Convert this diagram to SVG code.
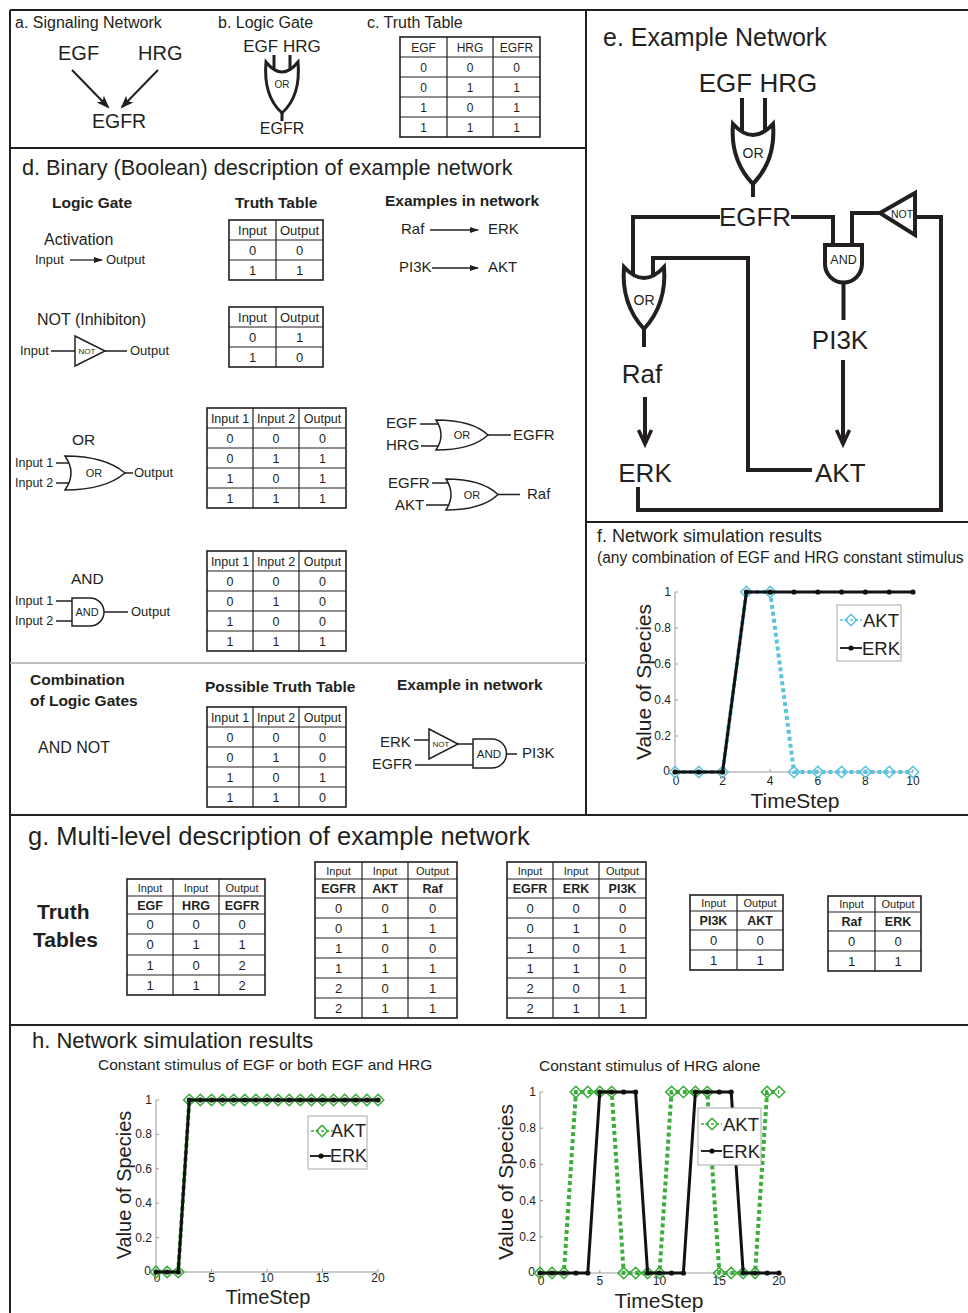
<svg xmlns="http://www.w3.org/2000/svg" width="968" height="1313" viewBox="0 0 968 1313">
<style>
text{font-family:"Liberation Sans",Arial,sans-serif;fill:#231f20}
.b{font-weight:bold}
.c{text-anchor:middle}
.r{text-anchor:end}
.frame{stroke:#231f20;stroke-width:2;fill:none}
.tb{fill:none;stroke:#231f20;stroke-width:1.6}
.tl{stroke:#231f20;stroke-width:1.2;fill:none}
.gate{fill:#fff;stroke:#231f20;stroke-width:1.5}
.gateB{fill:#fff;stroke:#231f20;stroke-width:3}
.gateE{fill:#fff;stroke:#231f20;stroke-width:4}
.wire{stroke:#231f20;stroke-width:1.3;fill:none}
.wireB{stroke:#231f20;stroke-width:3;fill:none}
.wireE{stroke:#231f20;stroke-width:4;fill:none}
.axis{stroke:#9a9a9a;stroke-width:1;fill:none}
.tick{font-size:12px}
.erk{stroke:#111;stroke-width:3;fill:none;marker-start:url(#dot);marker-mid:url(#dot);marker-end:url(#dot)}
.aktC{stroke:#5bc4dc;stroke-width:4;fill:none;stroke-dasharray:4 3;marker-start:url(#diaC);marker-mid:url(#diaC);marker-end:url(#diaC)}
.aktG{stroke:#3cac3c;stroke-width:4;fill:none;stroke-dasharray:4 3;marker-start:url(#diaG);marker-mid:url(#diaG);marker-end:url(#diaG)}
.legC{stroke:#5bc4dc;stroke-width:1.5;fill:none;stroke-dasharray:3 2;marker-mid:url(#diaC)}
.legG{stroke:#3cac3c;stroke-width:1.5;fill:none;stroke-dasharray:3 2;marker-mid:url(#diaG)}
.legE{stroke:#111;stroke-width:1.8;fill:none;marker-mid:url(#dot)}
.leg{fill:#fff;stroke:#a8a8a8;stroke-width:1}
.sep{stroke:#aaaaaa;stroke-width:1.5}
</style>
<defs>
<marker id="dot" markerUnits="userSpaceOnUse" markerWidth="8" markerHeight="8" refX="4" refY="4" overflow="visible"><circle cx="4" cy="4" r="2.6" fill="#111"/></marker>
<marker id="diaC" markerUnits="userSpaceOnUse" markerWidth="14" markerHeight="14" refX="7" refY="7" overflow="visible"><path d="M7,1.3 L12.7,7 L7,12.7 L1.3,7 Z" fill="none" stroke="#5bc4dc" stroke-width="1.6"/></marker>
<marker id="diaG" markerUnits="userSpaceOnUse" markerWidth="14" markerHeight="14" refX="7" refY="7" overflow="visible"><path d="M7,1.3 L12.7,7 L7,12.7 L1.3,7 Z" fill="none" stroke="#3cac3c" stroke-width="1.6"/></marker>
<marker id="arr" markerUnits="userSpaceOnUse" markerWidth="10" markerHeight="8" refX="8" refY="4" orient="auto" overflow="visible"><path d="M0,1 L9,4 L0,7 Z" fill="#231f20"/></marker>
<marker id="arrA" markerUnits="userSpaceOnUse" markerWidth="14" markerHeight="12" refX="11" refY="6" orient="auto" overflow="visible"><path d="M0,1 L13,6 L0,11 L3,6 Z" fill="#231f20"/></marker>
</defs>
<rect x="0" y="0" width="968" height="1313" fill="#fff"/>

<!-- frames -->
<g id="frames">
<path class="frame" d="M10,10 L968,10 M10,10 L10,1313 M10,148 L586,148 M586,10 L586,815 M586,522 L968,522 M10,815 L968,815 M10,1025 L968,1025"/>
<path class="sep" d="M10,663 L586,663"/>
</g>

<!-- panel a -->
<g id="panel-a">
<text x="15" y="28" font-size="16">a. Signaling Network</text>
<g id="a-EGF"><text x="58" y="60" font-size="20">EGF</text></g>
<g id="a-HRG"><text x="138" y="60" font-size="20">HRG</text></g>
<g id="a-EGFR"><text x="92" y="128" font-size="19.5">EGFR</text></g>
<g id="a-connectors">
<path d="M72,70 L108,107" stroke="#231f20" stroke-width="2" fill="none" marker-end="url(#arrA)"/>
<path d="M158,70 L122,107" stroke="#231f20" stroke-width="2" fill="none" marker-end="url(#arrA)"/>
</g>
</g>

<!-- panel b -->
<g id="panel-b">
<text x="218" y="28" font-size="16">b. Logic Gate</text>
<text x="282" y="52" font-size="17" class="c">EGF HRG</text>
<g id="b-connectors">
<path class="wireB" d="M274,55 L274,74 M290,55 L290,74 M282,110 L282,121"/>
</g>
<g id="b-or">
<path class="gateB" d="M266,62 Q282,82 298,62 Q301,96 282,113 Q263,96 266,62 Z"/>
<text x="282" y="88" font-size="10" class="c">OR</text>
</g>
<text x="282" y="134" font-size="16" class="c">EGFR</text>
</g>

<!-- panel c -->
<g id="panel-c" font-size="12">
<text x="367" y="28" font-size="16">c. Truth Table</text>
<rect class="tb" x="400" y="37" width="140" height="100"/>
<path class="tl" d="M447,37 V137 M493,37 V137 M400,57 H540 M400,77 H540 M400,97 H540 M400,117 H540"/>
<g class="c">
<text x="423.5" y="51.5">EGF</text><text x="470" y="51.5">HRG</text><text x="516.5" y="51.5">EGFR</text>
<text x="423.5" y="71.5">0</text><text x="470" y="71.5">0</text><text x="516.5" y="71.5">0</text>
<text x="423.5" y="91.5">0</text><text x="470" y="91.5">1</text><text x="516.5" y="91.5">1</text>
<text x="423.5" y="111.5">1</text><text x="470" y="111.5">0</text><text x="516.5" y="111.5">1</text>
<text x="423.5" y="131.5">1</text><text x="470" y="131.5">1</text><text x="516.5" y="131.5">1</text>
</g>
</g>

<!-- panel d -->
<g id="panel-d">
<text x="22" y="175" font-size="21.7">d. Binary (Boolean) description of example network</text>
<text x="52" y="208" font-size="15.5" class="b">Logic Gate</text>
<text x="235" y="208" font-size="15.5" class="b">Truth Table</text>
<text x="385" y="206" font-size="15.5" class="b">Examples in network</text>

<g id="d-activation">
<text x="44" y="245" font-size="16">Activation</text>
<text x="35" y="264" font-size="13">Input</text>
<path class="wire" d="M70,260 L102,260" marker-end="url(#arr)"/>
<text x="106" y="264" font-size="13">Output</text>
</g>

<g id="d-table1" font-size="13">
<rect class="tb" x="229" y="220" width="94" height="60"/>
<path class="tl" d="M276,220 V280 M229,240 H323 M229,260 H323"/>
<g class="c">
<text x="252.5" y="235">Input</text><text x="299.5" y="235">Output</text>
<text x="252.5" y="255">0</text><text x="299.5" y="255">0</text>
<text x="252.5" y="275">1</text><text x="299.5" y="275">1</text>
</g>
</g>

<g id="d-ex-act" font-size="15">
<text x="401" y="234">Raf</text>
<path class="wire" d="M430,230 L478,230" marker-end="url(#arr)"/>
<text x="488" y="234">ERK</text>
<text x="399" y="272">PI3K</text>
<path class="wire" d="M432,268 L478,268" marker-end="url(#arr)"/>
<text x="488" y="272">AKT</text>
</g>

<g id="d-not">
<text x="37" y="325" font-size="16">NOT (Inhibiton)</text>
<text x="20" y="355" font-size="13">Input</text>
<path class="wire" d="M51,351 L75,351 M105,351 L127,351"/>
<path class="gate" d="M75,336 L105,351 L75,366 Z"/>
<text x="87" y="354" font-size="8" class="c">NOT</text>
<text x="130" y="355" font-size="13">Output</text>
</g>

<g id="d-table2" font-size="13">
<rect class="tb" x="229" y="307" width="94" height="60"/>
<path class="tl" d="M276,307 V367 M229,327 H323 M229,347 H323"/>
<g class="c">
<text x="252.5" y="322">Input</text><text x="299.5" y="322">Output</text>
<text x="252.5" y="342">0</text><text x="299.5" y="342">1</text>
<text x="252.5" y="362">1</text><text x="299.5" y="362">0</text>
</g>
</g>

<g id="d-or">
<text x="72" y="445" font-size="15.5">OR</text>
<text x="15" y="467" font-size="12.5">Input 1</text>
<text x="15" y="487" font-size="12.5">Input 2</text>
<path class="wire" d="M56,463 L71,463 M56,483 L71,483 M125,473 L133,473"/>
<path class="gate" d="M65,456 Q77,473 65,490 Q105,490 125,473 Q105,456 65,456 Z"/>
<text x="94" y="477" font-size="11" class="c">OR</text>
<text x="134" y="477" font-size="13">Output</text>
</g>

<g id="d-table3" font-size="12.5">
<rect class="tb" x="207" y="408" width="139" height="100"/>
<path class="tl" d="M253,408 V508 M299,408 V508 M207,428 H346 M207,448 H346 M207,468 H346 M207,488 H346"/>
<g class="c">
<text x="230" y="423">Input 1</text><text x="276" y="423">Input 2</text><text x="322.5" y="423">Output</text>
<text x="230" y="443">0</text><text x="276" y="443">0</text><text x="322.5" y="443">0</text>
<text x="230" y="463">0</text><text x="276" y="463">1</text><text x="322.5" y="463">1</text>
<text x="230" y="483">1</text><text x="276" y="483">0</text><text x="322.5" y="483">1</text>
<text x="230" y="503">1</text><text x="276" y="503">1</text><text x="322.5" y="503">1</text>
</g>
</g>

<g id="d-ex-or1" font-size="15">
<text x="386" y="428">EGF</text>
<text x="386" y="450">HRG</text>
<path class="wire" d="M420,424 L441,424 M421,446 L441,446 M488,435 L511,435"/>
<path class="gate" d="M436,420 Q446,435 436,450 Q472,450 488,435 Q472,420 436,420 Z"/>
<text x="462" y="439" font-size="11" class="c">OR</text>
<text x="513" y="440">EGFR</text>
</g>

<g id="d-ex-or2" font-size="15">
<text x="388" y="488">EGFR</text>
<text x="395" y="510">AKT</text>
<path class="wire" d="M432,483 L452,483 M426,505 L452,505 M498,494.5 L520,494.5"/>
<path class="gate" d="M446,479 Q456,494.5 446,510 Q482,510 498,494.5 Q482,479 446,479 Z"/>
<text x="472" y="499" font-size="11" class="c">OR</text>
<text x="527" y="499">Raf</text>
</g>

<g id="d-and">
<text x="71" y="584" font-size="15.5">AND</text>
<text x="15" y="605" font-size="12.5">Input 1</text>
<text x="15" y="625" font-size="12.5">Input 2</text>
<path class="wire" d="M56,601 L72,601 M56,621 L72,621 M104,612 L128,612"/>
<path class="gate" d="M72,598 L90,598 A14,14 0 0 1 90,626 L72,626 Z"/>
<text x="87" y="616" font-size="11" class="c">AND</text>
<text x="131" y="616" font-size="13">Output</text>
</g>

<g id="d-table4" font-size="12.5">
<rect class="tb" x="207" y="551" width="139" height="100"/>
<path class="tl" d="M253,551 V651 M299,551 V651 M207,571 H346 M207,591 H346 M207,611 H346 M207,631 H346"/>
<g class="c">
<text x="230" y="566">Input 1</text><text x="276" y="566">Input 2</text><text x="322.5" y="566">Output</text>
<text x="230" y="586">0</text><text x="276" y="586">0</text><text x="322.5" y="586">0</text>
<text x="230" y="606">0</text><text x="276" y="606">1</text><text x="322.5" y="606">0</text>
<text x="230" y="626">1</text><text x="276" y="626">0</text><text x="322.5" y="626">0</text>
<text x="230" y="646">1</text><text x="276" y="646">1</text><text x="322.5" y="646">1</text>
</g>
</g>

<g id="d-combination">
<text x="30" y="685" font-size="15.5" class="b">Combination</text>
<text x="30" y="706" font-size="15.5" class="b">of Logic Gates</text>
<text x="205" y="692" font-size="15.5" class="b">Possible Truth Table</text>
<text x="397" y="690" font-size="15.5" class="b">Example in network</text>
<text x="38" y="753" font-size="16">AND NOT</text>
</g>

<g id="d-table5" font-size="12.5">
<rect class="tb" x="207" y="707" width="139" height="100"/>
<path class="tl" d="M253,707 V807 M299,707 V807 M207,727 H346 M207,747 H346 M207,767 H346 M207,787 H346"/>
<g class="c">
<text x="230" y="722">Input 1</text><text x="276" y="722">Input 2</text><text x="322.5" y="722">Output</text>
<text x="230" y="742">0</text><text x="276" y="742">0</text><text x="322.5" y="742">0</text>
<text x="230" y="762">0</text><text x="276" y="762">1</text><text x="322.5" y="762">0</text>
<text x="230" y="782">1</text><text x="276" y="782">0</text><text x="322.5" y="782">1</text>
<text x="230" y="802">1</text><text x="276" y="802">1</text><text x="322.5" y="802">0</text>
</g>
</g>

<g id="d-ex-andnot" font-size="15">
<text x="380" y="747">ERK</text>
<text x="372" y="769" font-size="14.5">EGFR</text>
<path class="wire" d="M414,740 L429,740 M458,744 L474,744 M415,765 L474,765 M506.5,754 L517,754"/>
<path class="gate" d="M429,729 L458,744 L429,759 Z"/>
<text x="441" y="747" font-size="8" class="c">NOT</text>
<path class="gate" d="M473,739 L492,739 A14.5,14.5 0 0 1 492,768 L473,768 Z"/>
<text x="489" y="758" font-size="11.5" class="c">AND</text>
<text x="522" y="758">PI3K</text>
</g>
</g>

<!-- panel e -->
<g id="panel-e">
<text x="603" y="46" font-size="25">e. Example Network</text>
<g id="e-connectors">
<path class="wireE" d="M742,98 L742,134 M765,98 L765,134"/>
<path class="wireE" d="M753,182 L753,197"/>
<path class="wireE" d="M720,217 L633,217 L633,285"/>
<path class="wireE" d="M791,217 L833,217 L833,250"/>
<path class="wireE" d="M852,250 L852,213 L880,213"/>
<path class="wireE" d="M915,217 L941,217 L941,510 L638,510 L638,487"/>
<path class="wireE" d="M653,285 L653,258 L748,258 L748,470 L812,470"/>
<path class="wireE" d="M644,327 L644,347"/>
<path class="wireE" d="M843.5,281 L843.5,320"/>
<path class="wireE" d="M645,397 L645,442"/>
<path d="M638.5,430 L645,444 L651.5,430" stroke="#231f20" stroke-width="3.5" fill="none" stroke-linejoin="miter"/>
<path class="wireE" d="M843,360 L843,442"/>
<path d="M836.5,430 L843,444 L849.5,430" stroke="#231f20" stroke-width="3.5" fill="none" stroke-linejoin="miter"/>
</g>
<g id="e-EGF-HRG"><text x="758" y="92" font-size="26" class="c">EGF HRG</text></g>
<g id="e-or1">
<path class="gateE" d="M733,124 Q753,146 773,124 Q776,160 753,184 Q730,160 733,124 Z"/>
<text x="753" y="158" font-size="14" class="c">OR</text>
</g>
<g id="e-EGFR"><text x="755" y="226" font-size="26" class="c">EGFR</text></g>
<g id="e-and">
<path class="gateE" d="M825,245 L862,245 L862,264 A18.5,18.5 0 0 1 825,264 Z"/>
<text x="843.5" y="264" font-size="12.5" class="c">AND</text>
</g>
<g id="e-not">
<path class="gateE" d="M880,213 L915,193 L915,235 Z" stroke-width="3" stroke-linejoin="miter"/>
<text x="902" y="218" font-size="10.5" class="c">NOT</text>
</g>
<g id="e-or2">
<path class="gateE" d="M624,267 Q644,289 664,267 Q667,304 644,329 Q621,304 624,267 Z"/>
<text x="644" y="305" font-size="14" class="c">OR</text>
</g>
<g id="e-PI3K"><text x="840" y="349" font-size="26" class="c">PI3K</text></g>
<g id="e-Raf"><text x="642" y="383" font-size="26" class="c">Raf</text></g>
<g id="e-ERK"><text x="645" y="482" font-size="26" class="c">ERK</text></g>
<g id="e-AKT"><text x="815" y="482" font-size="26">AKT</text></g>
</g>

<!-- panel f -->
<g id="panel-f">
<text x="597" y="542" font-size="18">f. Network simulation results</text>
<text x="597" y="563" font-size="15.6">(any combination of EGF and HRG constant stimulus</text>
<path class="axis" d="M675,592 L675,772 L913,772"/>
<path class="axis" d="M675,592 h3 M675,628 h3 M675,664 h3 M675,700 h3 M675,736 h3 M722.6,772 v-3 M770.2,772 v-3 M817.8,772 v-3 M865.4,772 v-3 M913,772 v-3"/>
<g class="tick r">
<text x="671" y="596">1</text><text x="671" y="632">0.8</text><text x="671" y="668">0.6</text><text x="671" y="704">0.4</text><text x="671" y="740">0.2</text><text x="670" y="775">0</text>
</g>
<g class="tick c">
<text x="676" y="785">0</text><text x="722.6" y="785">2</text><text x="770.2" y="785">4</text><text x="817.8" y="785">6</text><text x="865.4" y="785">8</text><text x="913" y="785">10</text>
</g>
<path class="aktC" d="M675,772 L698.8,772 L722.6,772 L746.4,592 L770.2,592 L794,772 L817.8,772 L841.6,772 L865.4,772 L889.2,772 L913,772"/>
<path class="erk" d="M675,772 L698.8,772 L722.6,772 L746.4,592 L770.2,592 L794,592 L817.8,592 L841.6,592 L865.4,592 L889.2,592 L913,592"/>
<text x="795" y="808" font-size="21" class="c">TimeStep</text>
<text transform="translate(651,682) rotate(-90)" font-size="21" class="c">Value of Species</text>
<g id="f-legend">
<rect class="leg" x="837" y="605" width="64" height="56"/>
<path class="legC" d="M840,620 L851,620 L862,620"/>
<text x="863" y="627" font-size="18.5">AKT</text>
<path class="legE" d="M840,648 L851,648 L862,648"/>
<text x="862" y="655" font-size="18.5">ERK</text>
</g>
</g>

<!-- panel g -->
<g id="panel-g">
<text x="28" y="845" font-size="25.5">g. Multi-level description of example network</text>
<text x="37" y="919" font-size="21" class="b">Truth</text>
<text x="33" y="947" font-size="21" class="b">Tables</text>

<g id="g-table1">
<rect class="tb" x="127" y="879" width="138" height="116"/>
<path class="tl" d="M173,879 V995 M219,879 V995 M127,896 H265 M127,914 H265 M127,934 H265 M127,955 H265 M127,975 H265"/>
<g class="c" font-size="11"><text x="150" y="892">Input</text><text x="196" y="892">Input</text><text x="242" y="892">Output</text></g>
<g class="c b" font-size="12.5"><text x="150" y="910">EGF</text><text x="196" y="910">HRG</text><text x="242" y="910">EGFR</text></g>
<g class="c" font-size="13">
<text x="150" y="929">0</text><text x="196" y="929">0</text><text x="242" y="929">0</text>
<text x="150" y="949">0</text><text x="196" y="949">1</text><text x="242" y="949">1</text>
<text x="150" y="970">1</text><text x="196" y="970">0</text><text x="242" y="970">2</text>
<text x="150" y="990">1</text><text x="196" y="990">1</text><text x="242" y="990">2</text>
</g>
</g>

<g id="g-table2">
<rect class="tb" x="315" y="862" width="142" height="156"/>
<path class="tl" d="M362,862 V1018 M408,862 V1018 M315,879 H457 M315,898 H457 M315,918 H457 M315,938 H457 M315,958 H457 M315,978 H457 M315,998 H457"/>
<g class="c" font-size="11"><text x="338.5" y="875">Input</text><text x="385" y="875">Input</text><text x="432.5" y="875">Output</text></g>
<g class="c b" font-size="12.5"><text x="338.5" y="893">EGFR</text><text x="385" y="893">AKT</text><text x="432.5" y="893">Raf</text></g>
<g class="c" font-size="13">
<text x="338.5" y="912.5">0</text><text x="385" y="912.5">0</text><text x="432.5" y="912.5">0</text>
<text x="338.5" y="932.5">0</text><text x="385" y="932.5">1</text><text x="432.5" y="932.5">1</text>
<text x="338.5" y="952.5">1</text><text x="385" y="952.5">0</text><text x="432.5" y="952.5">0</text>
<text x="338.5" y="972.5">1</text><text x="385" y="972.5">1</text><text x="432.5" y="972.5">1</text>
<text x="338.5" y="992.5">2</text><text x="385" y="992.5">0</text><text x="432.5" y="992.5">1</text>
<text x="338.5" y="1012.5">2</text><text x="385" y="1012.5">1</text><text x="432.5" y="1012.5">1</text>
</g>
</g>

<g id="g-table3">
<rect class="tb" x="507" y="862" width="139" height="156"/>
<path class="tl" d="M553,862 V1018 M599,862 V1018 M507,879 H646 M507,898 H646 M507,918 H646 M507,938 H646 M507,958 H646 M507,978 H646 M507,998 H646"/>
<g class="c" font-size="11"><text x="530" y="875">Input</text><text x="576" y="875">Input</text><text x="622.5" y="875">Output</text></g>
<g class="c b" font-size="12.5"><text x="530" y="893">EGFR</text><text x="576" y="893">ERK</text><text x="622.5" y="893">PI3K</text></g>
<g class="c" font-size="13">
<text x="530" y="912.5">0</text><text x="576" y="912.5">0</text><text x="622.5" y="912.5">0</text>
<text x="530" y="932.5">0</text><text x="576" y="932.5">1</text><text x="622.5" y="932.5">0</text>
<text x="530" y="952.5">1</text><text x="576" y="952.5">0</text><text x="622.5" y="952.5">1</text>
<text x="530" y="972.5">1</text><text x="576" y="972.5">1</text><text x="622.5" y="972.5">0</text>
<text x="530" y="992.5">2</text><text x="576" y="992.5">0</text><text x="622.5" y="992.5">1</text>
<text x="530" y="1012.5">2</text><text x="576" y="1012.5">1</text><text x="622.5" y="1012.5">1</text>
</g>
</g>

<g id="g-table4">
<rect class="tb" x="690" y="895" width="93" height="75"/>
<path class="tl" d="M737,895 V970 M690,911 H783 M690,930 H783 M690,950 H783"/>
<g class="c" font-size="11"><text x="713.5" y="907">Input</text><text x="760" y="907">Output</text></g>
<g class="c b" font-size="12.5"><text x="713.5" y="925">PI3K</text><text x="760" y="925">AKT</text></g>
<g class="c" font-size="13">
<text x="713.5" y="944.5">0</text><text x="760" y="944.5">0</text>
<text x="713.5" y="964.5">1</text><text x="760" y="964.5">1</text>
</g>
</g>

<g id="g-table5">
<rect class="tb" x="828" y="896" width="93" height="75"/>
<path class="tl" d="M875,896 V971 M828,912 H921 M828,931 H921 M828,951 H921"/>
<g class="c" font-size="11"><text x="851.5" y="908">Input</text><text x="898" y="908">Output</text></g>
<g class="c b" font-size="12.5"><text x="851.5" y="926">Raf</text><text x="898" y="926">ERK</text></g>
<g class="c" font-size="13">
<text x="851.5" y="945.5">0</text><text x="898" y="945.5">0</text>
<text x="851.5" y="965.5">1</text><text x="898" y="965.5">1</text>
</g>
</g>
</g>

<!-- panel h -->
<g id="panel-h">
<text x="32" y="1048" font-size="22">h. Network simulation results</text>
<text x="98" y="1070" font-size="15.5">Constant stimulus of EGF or both EGF and HRG</text>
<text x="539" y="1071" font-size="15.5">Constant stimulus of HRG alone</text>

<g id="h-plot-left">
<path class="axis" d="M156,1100 L156,1272 L378,1272"/>
<path class="axis" d="M156,1100 h3 M156,1134.4 h3 M156,1168.8 h3 M156,1203.2 h3 M156,1237.6 h3 M211.5,1272 v-3 M267,1272 v-3 M322.5,1272 v-3 M378,1272 v-3"/>
<g class="tick r">
<text x="152" y="1104">1</text><text x="152" y="1138.4">0.8</text><text x="152" y="1172.8">0.6</text><text x="152" y="1207.2">0.4</text><text x="152" y="1241.6">0.2</text><text x="151" y="1275">0</text>
</g>
<g class="tick c">
<text x="157" y="1282">0</text><text x="211.5" y="1282">5</text><text x="267" y="1282">10</text><text x="322.5" y="1282">15</text><text x="378" y="1282">20</text>
</g>
<path class="aktG" d="M156,1272 L167.1,1272 L178.2,1272 L189.3,1100 L200.4,1100 L211.5,1100 L222.6,1100 L233.7,1100 L244.8,1100 L255.9,1100 L267,1100 L278.1,1100 L289.2,1100 L300.3,1100 L311.4,1100 L322.5,1100 L333.6,1100 L344.7,1100 L355.8,1100 L366.9,1100 L378,1100"/>
<path class="erk" d="M156,1272 L167.1,1272 L178.2,1272 L189.3,1100 L200.4,1100 L211.5,1100 L222.6,1100 L233.7,1100 L244.8,1100 L255.9,1100 L267,1100 L278.1,1100 L289.2,1100 L300.3,1100 L311.4,1100 L322.5,1100 L333.6,1100 L344.7,1100 L355.8,1100 L366.9,1100 L378,1100"/>
<text x="268" y="1304" font-size="20" class="c">TimeStep</text>
<text transform="translate(131,1185) rotate(-90)" font-size="20" class="c">Value of Species</text>
<rect class="leg" x="308" y="1116" width="59" height="53"/>
<path class="legG" d="M311,1131 L322,1131 L333,1131"/>
<text x="331" y="1137" font-size="18">AKT</text>
<path class="legE" d="M310,1156 L321,1156 L331,1156"/>
<text x="330" y="1162" font-size="18">ERK</text>
</g>

<g id="h-plot-right">
<path class="axis" d="M540,1092 L540,1273 L779,1273"/>
<path class="axis" d="M540,1092 h3 M540,1128.2 h3 M540,1164.4 h3 M540,1200.6 h3 M540,1236.8 h3 M599.8,1273 v-3 M659.5,1273 v-3 M719.3,1273 v-3 M779,1273 v-3"/>
<g class="tick r">
<text x="536" y="1096">1</text><text x="536" y="1132.2">0.8</text><text x="536" y="1168.4">0.6</text><text x="536" y="1204.6">0.4</text><text x="536" y="1240.8">0.2</text><text x="535" y="1276">0</text>
</g>
<g class="tick c">
<text x="541" y="1285">0</text><text x="599.8" y="1285">5</text><text x="659.5" y="1285">10</text><text x="719.3" y="1285">15</text><text x="779" y="1285">20</text>
</g>
<path class="aktG" d="M540,1273 L552,1273 L563.9,1273 L575.9,1092 L587.8,1092 L599.8,1092 L611.7,1092 L623.7,1273 L635.6,1273 L647.6,1273 L659.5,1273 L671.5,1092 L683.4,1092 L695.4,1092 L707.3,1092 L719.3,1273 L731.2,1273 L743.2,1273 L755.1,1273 L767.1,1092 L779,1092"/>
<path class="erk" d="M540,1273 L552,1273 L563.9,1273 L575.9,1273 L587.8,1273 L599.8,1092 L611.7,1092 L623.7,1092 L635.6,1092 L647.6,1273 L659.5,1273 L671.5,1273 L683.4,1273 L695.4,1092 L707.3,1092 L719.3,1092 L731.2,1092 L743.2,1273 L755.1,1273 L767.1,1273 L779,1273"/>
<text x="659" y="1308" font-size="21" class="c">TimeStep</text>
<text transform="translate(513,1182) rotate(-90)" font-size="21" class="c">Value of Species</text>
<rect class="leg" x="698" y="1108" width="63" height="57"/>
<path class="legG" d="M701,1124 L712,1124 L722,1124"/>
<text x="723" y="1131" font-size="18.5">AKT</text>
<path class="legE" d="M701,1151 L712,1151 L722,1151"/>
<text x="722" y="1158" font-size="18.5">ERK</text>
</g>
</g>
</svg>
